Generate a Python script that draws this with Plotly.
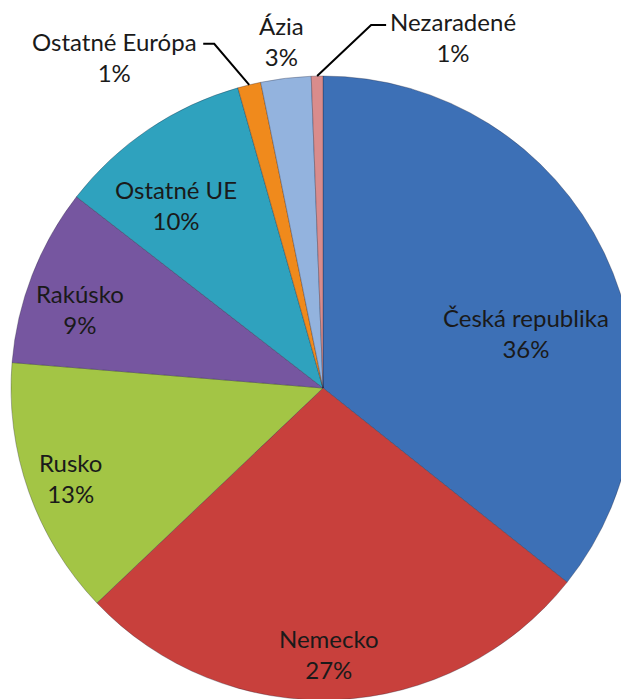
import math
import plotly.graph_objects as go

# export share by destination
labels = ["Česká republika", "Nemecko", "Rusko", "Rakúsko", "Ostatné UE",
          "Ostatné Európa", "Ázia", "Nezaradené"]
values = [35.7, 27.2, 13.4, 9.2, 10.1, 1.2, 2.6, 0.6]
colors = ["#3d70b6", "#c8403c", "#a3c545", "#7656a0", "#2fa2be",
          "#f08a1c", "#93b3de", "#d98c8c"]

# label block centres (page pixels)
label_pos = {
    "Česká republika": (526, 333),
    "Nemecko": (329, 654),
    "Rusko": (70, 478),
    "Rakúsko": (80, 309),
    "Ostatné UE": (176, 205),
    "Ostatné Európa": (114, 57),
    "Ázia": (281, 41),
    "Nezaradené": (453, 37),
}
# leader line bends (offset from slice edge) for the small slices
leaders = {
    "Ostatné Európa": (-35, -41, -11),
    "Nezaradené": (54, -51, 15),
}

BODY = 8  # default page margin around the plot div
W, H = 629, 692
ml, mr, mt, mb = 3, 2, 68, 0
PW, PH = W - ml - mr, H - mt - mb
R = min(PW, PH) / 2
cx, cy = BODY + ml + PW / 2, BODY + mt + PH / 2


def to_paper(px, py):
    return (px - BODY - ml) / PW, 1 - (py - BODY - mt) / PH


fig = go.Figure()
fig.add_trace(
    go.Pie(
        labels=labels,
        values=values,
        sort=False,
        direction="clockwise",
        rotation=0,
        marker=dict(colors=colors, line=dict(color="rgba(30,30,50,0.3)", width=1)),
        textinfo="none",
        showlegend=False,
        hoverinfo="label+percent",
    )
)

total = sum(values)
cum = 0
for lab, v in zip(labels, values):
    mid = (cum + v / 2) / total * 2 * math.pi
    cum += v
    x, y = to_paper(*label_pos[lab])
    fig.add_annotation(
        x=x, y=y, xref="paper", yref="paper", showarrow=False,
        text=f"{lab}<br>{round(v / total * 100)}%",
        font=dict(family="Lato", size=24, color="#1a1a1a"),
        xanchor="center", yanchor="middle",
    )
    if lab in leaders:
        ex, ey, hx = leaders[lab]
        sx, sy = cx + R * math.sin(mid), cy - R * math.cos(mid)
        p0 = to_paper(sx, sy)
        p1 = to_paper(sx + ex, sy + ey)
        p2 = to_paper(sx + ex + hx, sy + ey)
        fig.add_shape(
            type="path", xref="paper", yref="paper",
            path=f"M {p0[0]} {p0[1]} L {p1[0]} {p1[1]} L {p2[0]} {p2[1]}",
            line=dict(color="black", width=2),
        )

fig.update_layout(
    width=W,
    height=H,
    margin=dict(l=ml, r=mr, t=mt, b=mb),
    paper_bgcolor="white",
    plot_bgcolor="white",
)

fig.write_html("out.html")
